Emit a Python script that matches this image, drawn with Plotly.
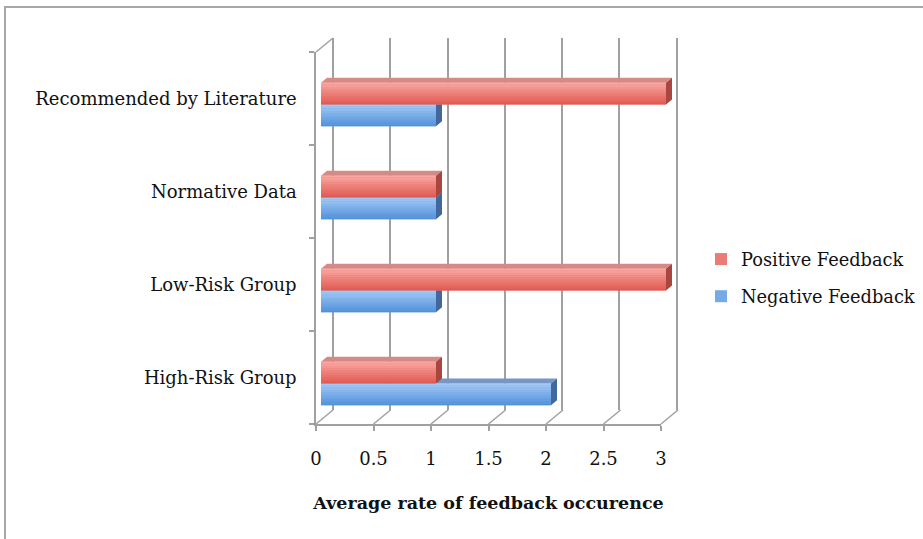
import plotly.graph_objects as go

# ---- data ----
categories = ["High-Risk Group", "Low-Risk Group", "Normative Data", "Recommended by Literature"]
negative_feedback = [2, 1, 1, 1]
positive_feedback = [1, 3, 1, 3]
x_tick_values = [0, 0.5, 1, 1.5, 2, 2.5, 3]
x_tick_labels = ["0", "0.5", "1", "1.5", "2", "2.5", "3"]

# ---- geometry (pixels) ----
W, H = 923, 539
ML, MR, MT, MB = 316, 245, 38, 115
PW, PH = W - ML - MR, H - MT - MB
FRONT_W, FRONT_H = 345, 372          # front plane extent
DEPTH_X, DEPTH_Y = 17, 14            # offset of back wall
X_MAX = 3
PX_PER_X = FRONT_W / X_MAX
PX_PER_CAT = FRONT_H / len(categories)
BAR_SHIFT_X, BAR_SHIFT_Y = 5, 6      # bars sit slightly inside the box
BAR_DX, BAR_DY = 6, 5                # bar depth faces
BARGAP = 0.53

FONT = "DejaVu Serif"
GRID = "#a0a0a0"
TEXT = "#111111"

red_top, red_bot = (251, 170, 165), (222, 86, 78)
blue_top, blue_bot = (166, 203, 248), (78, 143, 216)
red_face_top, red_face_side = "#d58a88", "#a8463f"
blue_face_top, blue_face_side = "#7697c4", "#41679c"

fig = go.Figure()

series = [
    ("Negative Feedback", negative_feedback, blue_top, blue_bot, 2),
    ("Positive Feedback", positive_feedback, red_top, red_bot, 1),
]

def rgb(c):
    return "rgb(%d,%d,%d)" % c

def mix(a, b, t):
    return tuple(round(a[i] + (b[i] - a[i]) * t) for i in range(3))

# invisible trace that fixes the category order of the labelled axis
fig.add_trace(go.Scatter(y=categories, x=[0] * len(categories), mode="markers",
                         marker=dict(opacity=0), showlegend=False, hoverinfo="skip"))
# invisible trace on the back-wall axes
fig.add_trace(go.Scatter(x=[0, X_MAX], y=[0, 1], mode="markers", marker=dict(opacity=0),
                         xaxis="x2", yaxis="y2", showlegend=False, hoverinfo="skip"))

for name, vals, ctop, cbot, rank in series:
    fig.add_trace(go.Bar(
        name=name, y=categories, x=vals, orientation="h",
        marker=dict(color=rgb(mix(ctop, cbot, 0.55)), line=dict(width=0)),
        xaxis="x3", yaxis="y3", legendrank=rank, legendgroup=name,
        hoverinfo="x+y+name",
    ))

shapes = []
# floor diagonals from the front axis ticks to the back wall (paper coordinates)
front_top = FRONT_H / PH
for v in x_tick_values:
    px = v * PX_PER_X / PW
    shapes.append(dict(type="line", xref="paper", yref="paper", x0=px, x1=px + DEPTH_X / PW,
                       y0=0, y1=DEPTH_Y / PH, line=dict(color=GRID, width=1.5), layer="below"))
# left wall top edge
shapes.append(dict(type="line", xref="paper", yref="paper", x0=0, x1=DEPTH_X / PW,
                   y0=front_top, y1=front_top + DEPTH_Y / PH,
                   line=dict(color=GRID, width=1.5), layer="below"))

# 3D faces and shading for each bar
w = (1 - BARGAP) / 2
fdx = BAR_DX / PX_PER_X
fdy = BAR_DY / PX_PER_CAT
face_cols = {"Negative Feedback": (blue_face_top, blue_face_side),
             "Positive Feedback": (red_face_top, red_face_side)}
for k, (name, vals, ctop, cbot, _) in enumerate(series):
    ftop, fside = face_cols[name]
    for i, v in enumerate(vals):
        yc = i + (k - 0.5) * w
        y0, y1 = yc - w / 2, yc + w / 2
        shapes.append(dict(type="path", xref="x3", yref="y3", layer="between",
                           path=f"M0,{y1} L{v},{y1} L{v + fdx},{y1 + fdy} L{fdx},{y1 + fdy} Z",
                           fillcolor=ftop, line=dict(width=0)))
        shapes.append(dict(type="path", xref="x3", yref="y3", layer="between",
                           path=f"M{v},{y0} L{v},{y1} L{v + fdx},{y1 + fdy} L{v + fdx},{y0 + fdy} Z",
                           fillcolor=fside, line=dict(width=0)))
        n = 10
        for s in range(n):
            ya = y1 - (y1 - y0) * s / n
            yb = y1 - (y1 - y0) * (s + 1) / n
            shapes.append(dict(type="rect", xref="x3", yref="y3", layer="above",
                               x0=0, x1=v, y0=yb, y1=ya,
                               fillcolor=rgb(mix(ctop, cbot, (s + 0.5) / n)), line=dict(width=0)))

# outer chart border
shapes.append(dict(type="rect", xref="paper", yref="paper",
                   x0=(5 - ML) / PW, x1=(W + 20 - ML) / PW,
                   y0=-(MB + 20) / PH, y1=1 + (MT - 7) / PH,
                   line=dict(color="#a8a8a8", width=2), fillcolor="rgba(0,0,0,0)", layer="below"))

fig.update_layout(
    width=W, height=H,
    margin=dict(l=ML, r=MR, t=MT, b=MB, autoexpand=False),
    paper_bgcolor="white", plot_bgcolor="rgba(0,0,0,0)",
    font=dict(family=FONT, size=18, color=TEXT),
    barmode="group", bargap=BARGAP, bargroupgap=0,
    showlegend=True,
    legend=dict(x=(701 - ML) / PW, y=(MT + FRONT_H + 14 - 278) / PH, yanchor="middle",
                xanchor="left", font=dict(family=FONT, size=17.8, color=TEXT),
                tracegroupgap=11, bgcolor="rgba(0,0,0,0)", traceorder="grouped"),
    shapes=shapes,
    xaxis=dict(domain=[0, FRONT_W / PW], range=[0, X_MAX], tickvals=x_tick_values,
               ticktext=x_tick_labels, showgrid=False, zeroline=False,
               showline=True, linecolor=GRID, linewidth=1.5, ticks="outside", ticklen=5,
               tickcolor=GRID, tickwidth=1.5, ticklabelstandoff=13, anchor="y",
               tickfont=dict(size=18),
               title=dict(text="<b>Average rate of feedback occurence</b>",
                          font=dict(family=FONT, size=17.5, color=TEXT), standoff=28)),
    yaxis=dict(domain=[0, FRONT_H / PH], type="category", categoryorder="array",
               categoryarray=categories, range=[-0.5, len(categories) - 0.5],
               showgrid=False, zeroline=False, showline=True, linecolor=GRID, linewidth=1.5,
               ticks="outside", ticklen=5, tickcolor=GRID, tickwidth=1.5,
               tickson="boundaries", ticklabelstandoff=14, anchor="x"),
    xaxis2=dict(domain=[DEPTH_X / PW, 1], range=[0, X_MAX + 1.5 / PX_PER_X], dtick=0.5, tick0=0,
                showgrid=True, gridcolor=GRID, gridwidth=1.5, zeroline=True,
                zerolinecolor=GRID, zerolinewidth=1.5, showticklabels=False, ticks="",
                showline=False, anchor="y2"),
    yaxis2=dict(domain=[DEPTH_Y / PH, 1], range=[0, 1], showgrid=False, zeroline=False,
                showticklabels=False, ticks="", showline=False, anchor="x2"),
    xaxis3=dict(domain=[0, 1],
                range=[-BAR_SHIFT_X / PX_PER_X, (PW - BAR_SHIFT_X) / PX_PER_X],
                showgrid=False, zeroline=False, showticklabels=False, ticks="",
                showline=False, anchor="y3"),
    yaxis3=dict(domain=[0, FRONT_H / PH], type="category", categoryorder="array",
                categoryarray=categories,
                range=[-0.5 + BAR_SHIFT_Y / PX_PER_CAT, len(categories) - 0.5 + BAR_SHIFT_Y / PX_PER_CAT],
                showgrid=False, zeroline=False, showticklabels=False, ticks="",
                showline=False, anchor="x3"),
)

fig.write_html("out.html")
